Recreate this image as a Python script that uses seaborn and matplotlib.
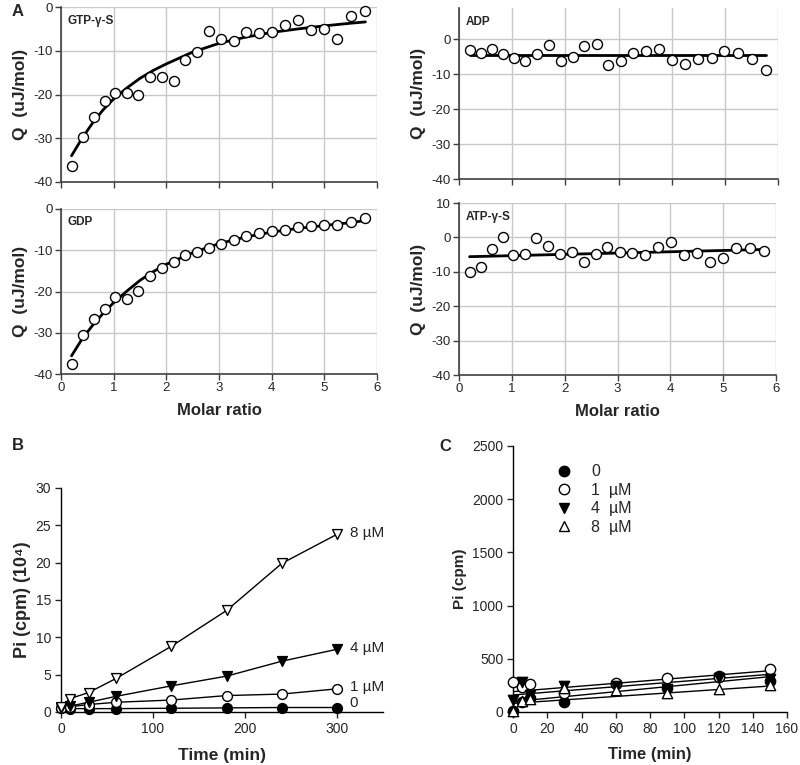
import numpy as np
import matplotlib
matplotlib.use("Agg")
import matplotlib.pyplot as plt
import seaborn as sns

sns.set_style("white")
plt.rcParams['font.family'] = ['Liberation Sans', 'DejaVu Sans']
plt.rcParams['axes.unicode_minus'] = False

# ---- Panel A: ITC data (molar ratio vs Q) ----
molar = [0.20, 0.41, 0.63, 0.83, 1.03, 1.25, 1.46, 1.69, 1.91, 2.14, 2.36, 2.59, 2.81,
         3.04, 3.28, 3.52, 3.76, 4.01, 4.25, 4.50, 4.75, 4.99, 5.24, 5.51, 5.77]
q_gtp = [-36.3, -29.6, -25.2, -21.4, -19.7, -19.7, -20.2, -16.0, -16.1, -16.9, -12.1, -10.3, -5.5,
         -7.2, -7.7, -5.8, -6.0, -5.6, -4.2, -2.9, -5.2, -5.0, -7.4, -2.0, -1.0]
q_gdp = [-37.5, -30.5, -26.6, -24.2, -21.4, -21.7, -19.8, -16.2, -14.3, -12.8, -11.1, -10.4, -9.5,
         -8.5, -7.4, -6.6, -5.9, -5.4, -5.0, -4.4, -4.2, -4.0, -4.0, -3.2, -2.2]
q_adp = [-2.9, -4.0, -2.7, -4.3, -5.4, -6.3, -4.3, -1.5, -6.3, -5.1, -2.0, -1.3, -7.2,
         -6.2, -4.0, -3.3, -2.7, -5.9, -6.9, -5.7, -5.3, -3.4, -3.8, -5.5, -8.8]
q_atp = [-10.0, -8.5, -3.3, 0.2, -5.0, -4.9, -0.3, -2.4, -4.8, -4.2, -7.1, -4.7, -2.9,
         -4.2, -4.5, -5.2, -2.7, -1.4, -5.2, -4.4, -7.2, -6.0, -3.0, -3.2, -3.9]

# fitted curves
fit_x = [0.2, 0.4, 0.6, 0.8, 1.0, 1.25, 1.5, 1.75, 2.0, 2.5, 3.0, 3.5, 4.0, 4.5, 5.0, 5.5, 5.78]
fit_gtp = [-34.0, -30.0, -26.5, -23.5, -21.0, -18.5, -16.3, -14.5, -13.0, -10.3, -8.3, -6.9,
           -5.8, -5.0, -4.3, -3.7, -3.4]
fit_gdp = [-35.6, -31.5, -28.2, -25.3, -22.7, -19.9, -17.3, -15.2, -13.4, -10.6, -8.4, -6.8,
           -5.6, -4.7, -4.0, -3.3, -2.8]
fit_line_x = [0.2, 5.78]
fit_adp = [-4.6, -4.6]
fit_atp = [-5.6, -3.5]

# ---- Panel B: Pi release (10^4 cpm) ----
time_b = [0, 10, 30, 60, 120, 180, 240, 300]
b_0 = [0.5, 0.45, 0.45, 0.45, 0.5, 0.55, 0.6, 0.6]
b_1 = [0.6, 0.7, 1.0, 1.3, 1.6, 2.2, 2.4, 3.1]
b_4 = [0.6, 0.8, 1.3, 2.1, 3.5, 4.8, 6.8, 8.4]
b_8 = [0.7, 1.8, 2.6, 4.5, 8.8, 13.6, 19.9, 23.8]
b_labels = ['0', '1 µM', '4 µM', '8 µM']

# ---- Panel C: Pi release (cpm) ----
time_c = [0, 5, 10, 30, 60, 90, 120, 150]
c_0 = [10, 90, 130, 97, 265, 230, 335, 295]
c_1 = [285, 235, 265, 182, 272, 322, 325, 405]
c_4 = [110, 278, 160, 240, 240, 220, 320, 310]
c_8 = [10, 100, 120, 230, 205, 180, 213, 255]
c_fit_t = [0, 150]
c_fit_0 = [97, 332]
c_fit_1 = [191, 388]
c_fit_4 = [160, 354]
c_fit_8 = [81, 244]
c_labels = ['0', '1  µM', '4  µM', '8  µM']

fig = plt.figure(figsize=(8, 7.65), dpi=100)

grid_c = '#c8c8c8'
spine_c = '#404040'


def itc_axes(rect, q, fx, fy, name, ylim, show_xlabels):
    ax = fig.add_axes(rect)
    ax.grid(True, color=grid_c, lw=1)
    sns.lineplot(x=fx, y=fy, color='black', lw=2, ax=ax, zorder=2)
    sns.scatterplot(x=molar, y=q, marker='o', s=52, color='white', edgecolor='black',
                    linewidth=1, ax=ax, zorder=3, clip_on=False)
    ax.set_xlim(0, 6)
    ax.set_ylim(*ylim)
    ax.set_xticks(range(0, 7))
    ax.set_yticks([0, -10, -20, -30, -40])
    for s in ['top', 'right']:
        ax.spines[s].set_visible(False)
    for s in ['left', 'bottom']:
        ax.spines[s].set_color(spine_c)
        ax.spines[s].set_linewidth(1.2)
    ax.tick_params(axis='both', labelsize=9.5, length=4, width=1, color=spine_c,
                   direction='out', bottom=True, left=True, pad=2)
    if show_xlabels:
        ax.set_xlabel('Molar ratio', fontsize=12, fontweight='bold', labelpad=6)
    else:
        ax.tick_params(axis='x', labelbottom=False)
        ax.set_xlabel('')
    ax.set_ylabel('Q  (uJ/mol)', fontsize=12.5, fontweight='bold', labelpad=4)
    ax.text(0.02, 0.955, name, transform=ax.transAxes, fontsize=8.5, fontweight='bold',
            va='top', ha='left')
    return ax


ax1 = itc_axes([0.07625, 0.7621, 0.395, 0.2287], q_gtp, fit_x, fit_gtp, 'GTP-γ-S', (-40, 0), False)
ax2 = itc_axes([0.07625, 0.5111, 0.395, 0.2157], q_gdp, fit_x, fit_gdp, 'GDP', (-40, 0), True)
ax3 = itc_axes([0.57375, 0.766, 0.39875, 0.2235], q_adp, fit_line_x, fit_adp, 'ADP', (-40, 9), False)
ax4 = itc_axes([0.57375, 0.5098, 0.39625, 0.2248], q_atp, fit_line_x, fit_atp, 'ATP-γ-S', (-40, 10), True)
ax4.set_yticks([10, 0, -10, -20, -30, -40])

# ---- Panel B ----
axb = fig.add_axes([0.07625, 0.0693, 0.4025, 0.2928])
b_series = [(b_0, 'o', 'black'), (b_1, 'o', 'white'), (b_4, 'v', 'black'), (b_8, 'v', 'white')]
for (vals, mk, fc), lab in zip(b_series, b_labels):
    sns.lineplot(x=time_b, y=vals, color='black', lw=1, ax=axb, zorder=2)
    sns.scatterplot(x=time_b, y=vals, marker=mk, s=50, color=fc, edgecolor='black',
                    linewidth=1, ax=axb, zorder=3, clip_on=False)
    axb.annotate(lab, (time_b[-1], vals[-1]), xytext=(9, 1 if lab != '0' else 3),
                 textcoords='offset points', fontsize=11, va='center', ha='left')
axb.set_xlim(0, 350)
axb.set_ylim(0, 30)
axb.set_xticks([0, 100, 200, 300])
axb.set_yticks([0, 5, 10, 15, 20, 25, 30])
axb.set_xlabel('Time (min)', fontsize=12.5, fontweight='bold', labelpad=9)
axb.set_ylabel('Pi (cpm) (10⁴)', fontsize=13, fontweight='bold', labelpad=3)

# ---- Panel C ----
axc = fig.add_axes([0.64125, 0.0693, 0.3425, 0.3477])
c_series = [(c_0, c_fit_0, 'o', 'black'), (c_1, c_fit_1, 'o', 'white'),
            (c_4, c_fit_4, 'v', 'black'), (c_8, c_fit_8, '^', 'white')]
handles = []
for (vals, fit, mk, fc), lab in zip(c_series, c_labels):
    sns.lineplot(x=c_fit_t, y=fit, color='black', lw=1, ax=axc, zorder=2)
    sns.scatterplot(x=time_c, y=vals, marker=mk, s=55, color=fc, edgecolor='black',
                    linewidth=1, ax=axc, zorder=3, clip_on=False)
    handles.append(plt.Line2D([], [], ls='none', marker=mk, ms=7.5, mfc=fc, mec='black',
                              mew=1, label=lab))
axc.set_xlim(0, 160)
axc.set_ylim(0, 2500)
axc.set_xticks(range(0, 161, 20))
axc.set_yticks(range(0, 2501, 500))
axc.set_xlabel('Time (min)', fontsize=12, fontweight='bold', labelpad=8)
axc.set_ylabel('Pi (cpm)', fontsize=11, fontweight='bold', labelpad=4)
axc.legend(handles=handles, loc='upper left', bbox_to_anchor=(0.105, 0.955), frameon=False,
           fontsize=11.5, handletextpad=0.7, labelspacing=0.22, borderaxespad=0)

for ax in (axb, axc):
    for s in ['top', 'right']:
        ax.spines[s].set_visible(False)
    for s in ['left', 'bottom']:
        ax.spines[s].set_color('black')
        ax.spines[s].set_linewidth(1)
    ax.tick_params(axis='both', labelsize=10, length=4, width=1, direction='out',
                   bottom=True, left=True, pad=3)

# panel letters
fig.text(12 / 800, 1 - 12 / 765, 'A', fontsize=12, fontweight='bold', va='center')
fig.text(12 / 800, 1 - 445 / 765, 'B', fontsize=12, fontweight='bold', va='center')
fig.text(439 / 800, 1 - 446 / 765, 'C', fontsize=12, fontweight='bold', va='center')

fig.savefig('out.png', dpi=100)
